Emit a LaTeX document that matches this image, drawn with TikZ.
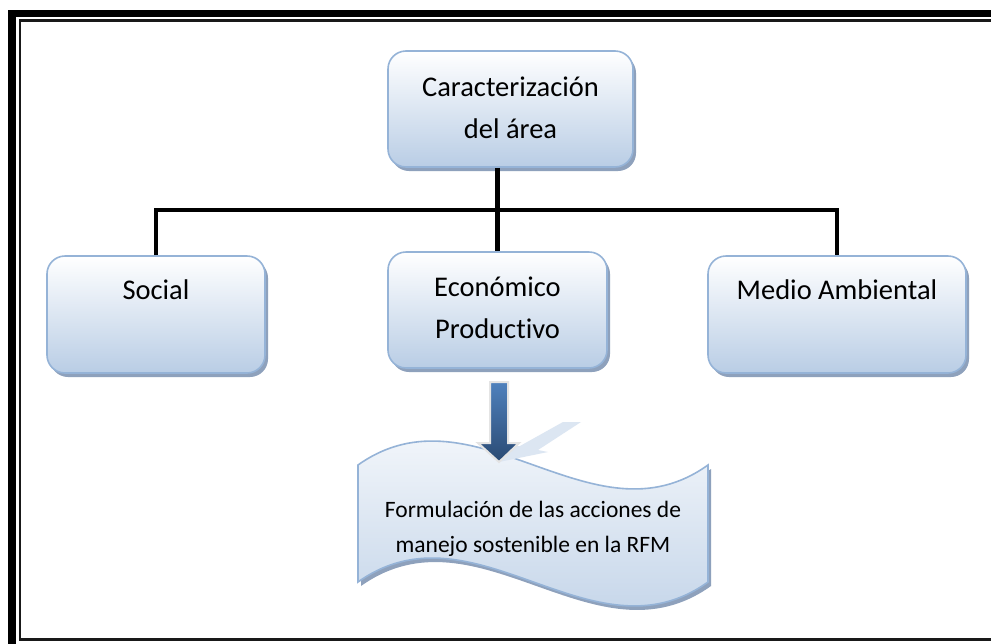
\documentclass[tikz,border=0pt]{standalone}
\usepackage{fontspec}
\setmainfont{Carlito}[Ligatures={NoCommon}]
\usetikzlibrary{shadows}
\definecolor{boxbot}{HTML}{B9CDE5}
\definecolor{boxline}{HTML}{95B3D7}
\definecolor{shadowc}{HTML}{8EA1BC}
\definecolor{arrtop}{HTML}{4F81BD}
\definecolor{arrbot}{HTML}{2A4A73}
\definecolor{reflc}{HTML}{DCE6F2}
\definecolor{glowc}{HTML}{E4E4E4}
\begin{document}
\begin{tikzpicture}[x=1pt,y=-1pt,
  boxshadow/.style={drop shadow={shadow xshift=3pt,shadow yshift=-4pt,fill=shadowc,opacity=1}},
  box/.style={rectangle,rounded corners=18pt,draw=boxline,line width=1.6pt,
    top color=white,bottom color=boxbot,boxshadow,inner sep=0pt},
  bigtxt/.style={font=\fontsize{28.5}{41.5}\selectfont,align=center,inner sep=0pt},
  wavetxtstyle/.style={font=\fontsize{23.5}{35}\selectfont,align=center,inner sep=0pt},
  conn/.style={draw=black,line width=4.8pt},
  outerframe/.style={draw=black,line width=7.5pt},
  innerframe/.style={draw=black!90,line width=2.5pt}]
\useasboundingbox (0,0) rectangle (991,643);
\clip (0,0) rectangle (991,643);
\fill[white] (0,0) rectangle (991,643);
% frame
\draw[outerframe] (12,13.5) rectangle (1020,670);
\draw[innerframe] (20,20.5) rectangle (1010,639.5);
% boxes
\node[box,minimum width=245pt,minimum height=116pt] (car) at (510.5,109) {};
\node[box,minimum width=218pt,minimum height=117pt] (social) at (156,314.5) {};
\node[box,minimum width=219pt,minimum height=116pt] (econ) at (497.5,310) {};
\node[box,minimum width=258pt,minimum height=117pt] (medio) at (837,314.5) {};
% texts
\node[bigtxt] (cart) at (510.5,108) {Caracterización\\del área};
\node[bigtxt,anchor=base] (socialt) at (156,299) {Social};
\node[bigtxt] (econt) at (497.5,308) {Económico\\Productivo};
\node[bigtxt,anchor=base] (mediot) at (837,299) {Medio Ambiental};
% connectors
\coordinate (bus) at (499,210);
\draw[conn] (car.south -| econ.north) -- (econ.north);
\draw[conn] (social.north) -- (social.north |- bus) -- (medio.north |- bus) -- (medio.north);
% wave shape
\path[draw=boxline,line width=1.6pt,top color=white,bottom color=boxbot,boxshadow]
  (358,465) .. controls (475,382) and (592,548) .. (708,465)
  -- (708,582) .. controls (592,665) and (475,499) .. (358,582) -- cycle;
\node[wavetxtstyle] (wavet) at (533,529) {Formulación de las acciones de\\manejo sostenible en la RFM};
% block arrow with reflection
\coordinate (tip) at (499,462);
\fill[reflc] (tip) -- (508,446) -- (520,446) -- (563,422) -- (581,422) -- (538,450) -- (548,452) -- cycle;
\path[draw=glowc,line width=2pt,top color=arrtop,bottom color=arrbot]
  (tip) -- (478,443) -- (490,443) -- (490,382) -- (508,382) -- (508,443) -- (519,443) -- cycle;
\end{tikzpicture}
\end{document}
